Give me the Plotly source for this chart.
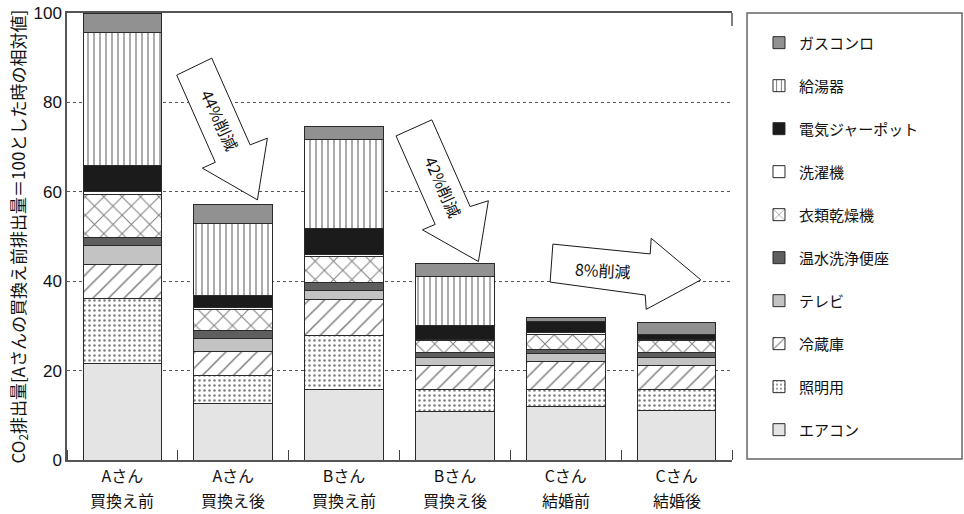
import plotly.graph_objects as go

# ---------------- data ----------------
persons = ["Aさん", "Aさん", "Bさん", "Bさん", "Cさん", "Cさん"]
states = ["買換え前", "買換え後", "買換え前", "買換え後", "結婚前", "結婚後"]
x_pos = [0, 1, 2, 3, 4, 5]

aircon = [21.6, 12.7, 15.7, 10.8, 11.9, 11.0]      # エアコン
lighting = [14.5, 6.2, 12.1, 5.0, 3.9, 4.8]        # 照明用
fridge = [7.7, 5.3, 8.2, 5.3, 6.2, 5.3]            # 冷蔵庫
tv = [4.1, 3.0, 1.9, 1.8, 1.9, 1.8]                # テレビ
toilet = [1.9, 1.7, 1.8, 1.1, 0.9, 1.1]            # 温水洗浄便座
dryer = [9.7, 4.8, 5.9, 2.8, 3.2, 2.8]             # 衣類乾燥機
washer = [0.5, 0.5, 0.3, 0.2, 0.5, 0.2]            # 洗濯機
pot = [5.8, 2.7, 5.9, 3.0, 2.4, 1.0]               # 電気ジャーポット
water_heater = [29.9, 15.9, 19.9, 11.0, 0.0, 0.0]  # 給湯器
gas_stove = [4.3, 4.4, 3.0, 3.0, 1.0, 2.7]         # ガスコンロ

series_names = ["エアコン", "照明用", "冷蔵庫", "テレビ", "温水洗浄便座",
                "衣類乾燥機", "洗濯機", "電気ジャーポット", "給湯器", "ガスコンロ"]
series_values = [aircon, lighting, fridge, tv, toilet, dryer, washer, pot,
                 water_heater, gas_stove]

y_ticks = [0, 20, 40, 60, 80, 100]
y_title = "CO<sub>2</sub>排出量[Aさんの買換え前排出量＝100とした時の相対値]"

reduction_labels = ["44%削減", "42%削減", "8%削減"]

# ---------------- styles ----------------
styles = [
    dict(color="#e4e4e4"),
    dict(color="white", pattern=dict(shape=".", fgcolor="#000", bgcolor="white", size=5, solidity=0.2)),
    dict(color="white", pattern=dict(shape="/", fgcolor="#000", bgcolor="white", size=11, solidity=0.14)),
    dict(color="#c3c3c3"),
    dict(color="#5e5e5e"),
    dict(color="white", pattern=dict(shape="x", fgcolor="#000", bgcolor="white", size=13, solidity=0.15)),
    dict(color="white"),
    dict(color="#1b1b1b"),
    dict(color="white", pattern=dict(shape="|", fgcolor="#000", bgcolor="white", size=6, solidity=0.22)),
    dict(color="#919191"),
]

CJK = "Noto Sans CJK JP"
NUM = "Liberation Sans, Arial, sans-serif"

fig = go.Figure()
n = len(series_names)
for i, (name, vals, st) in enumerate(zip(series_names, series_values, styles)):
    marker = dict(color=st["color"], line=dict(color="#2a2a2a", width=1))
    if "pattern" in st:
        marker["pattern"] = st["pattern"]
    fig.add_trace(go.Bar(x=x_pos, y=vals, name=name, marker=marker, width=0.71,
                         legendgroup=name, legendrank=n - i, hoverinfo="name+y"))

# ---------------- arrows (annotation decorations) ----------------
arrow_shapes = [
    [(0.490, 86.1), (0.806, 89.9), (1.152, 70.5), (1.308, 72.0), (1.218, 58.2), (0.721, 65.3), (0.838, 66.6)],
    [(2.469, 72.5), (2.792, 76.1), (3.137, 56.7), (3.302, 58.0), (3.212, 44.4), (2.707, 51.5), (2.822, 52.7)],
    [(3.884, 48.3), (4.762, 46.1), (4.771, 49.6), (5.219, 40.3), (4.726, 33.7), (4.717, 36.9), (3.859, 39.8)],
]
arrow_text_pos = [(0.881, 76.1, 65), (2.896, 61.1, 66), (4.340, 42.5, 3)]

shapes = []
for pts in arrow_shapes:
    path = "M " + " L ".join(f"{px},{py}" for px, py in pts) + " Z"
    shapes.append(dict(type="path", path=path, xref="x", yref="y",
                       fillcolor="white", line=dict(color="#1a1a1a", width=1), layer="above"))

# legend frame and top-right tick
shapes.append(dict(type="rect", xref="paper", yref="paper", x0=1.0226, x1=1.3459, y0=0.002, y1=1,
                   line=dict(color="#666", width=1.5), fillcolor="rgba(0,0,0,0)"))
shapes.append(dict(type="line", xref="paper", yref="paper", x0=1, x1=1, y0=1, y1=1 - 13 / 447,
                   line=dict(color="#555", width=1.5)))

annotations = []
for txt, (ax_, ay_, ang) in zip(reduction_labels, arrow_text_pos):
    annotations.append(dict(x=ax_, y=ay_, xref="x", yref="y", text=txt, showarrow=False,
                            textangle=ang, font=dict(family=CJK, size=16, color="#111")))
# second line of category labels
for xp, st_ in zip(x_pos, states):
    annotations.append(dict(x=xp, y=-39.5 / 447, xref="x", yref="paper", text=st_, showarrow=False,
                            yanchor="middle", borderpad=0,
                            font=dict(family=CJK, size=16, color="#111")))
# y-axis title
annotations.append(dict(x=-49 / 665, y=0.5, xref="paper", yref="paper", text=y_title, showarrow=False,
                        textangle=-90, xanchor="center", yanchor="middle",
                        font=dict(family=CJK, size=17, color="#111")))

fig.update_layout(
    barmode="stack",
    width=964, height=514,
    margin=dict(l=67, r=232, t=13, b=54),
    paper_bgcolor="white", plot_bgcolor="white",
    shapes=shapes, annotations=annotations,
    showlegend=True,
    legend=dict(x=1.0406, y=0.970, xanchor="left", yanchor="top",
                traceorder="grouped", tracegroupgap=20.5,
                font=dict(family=CJK, size=15, color="#111"),
                bgcolor="rgba(0,0,0,0)", borderwidth=0),
    xaxis=dict(range=[-0.5, 5.5], tickvals=x_pos, ticktext=persons, automargin=False,
               showgrid=False, zeroline=False, showline=True, mirror=True,
               linecolor="#555", linewidth=1.5, ticks="", ticklabelstandoff=1,
               tickfont=dict(family=CJK, size=16, color="#111"),
               minor=dict(ticks="inside", tick0=0.5, dtick=1, ticklen=10,
                          tickcolor="#444", tickwidth=1.2, showgrid=False)),
    yaxis=dict(range=[0, 100], tickvals=y_ticks, showgrid=True, gridcolor="#555", automargin=False,
               griddash="3px,3px", gridwidth=1, zeroline=False, showline=True,
               linecolor="#555", linewidth=1.5, ticks="",
               tickfont=dict(family=NUM, size=17, color="#111")),
)

fig.write_html("out.html")
